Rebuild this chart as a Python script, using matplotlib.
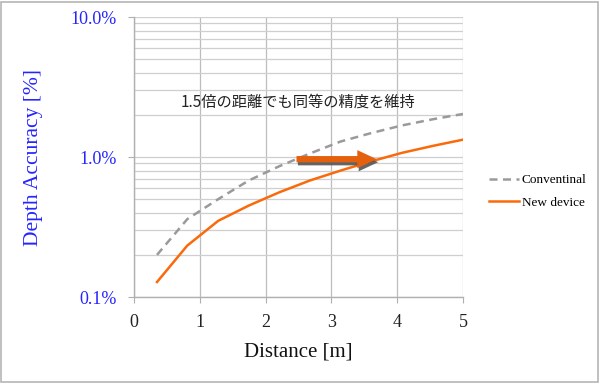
import matplotlib
matplotlib.use("Agg")
import matplotlib.pyplot as plt
from matplotlib.patches import Rectangle
from matplotlib.ticker import FixedLocator, NullFormatter
import matplotlib.patheffects as pe

distance = [0.35, 0.81, 1.28, 1.745, 2.21, 2.675, 3.14, 3.6, 4.07, 4.54, 5.0]
conventional = [0.20, 0.36, 0.50, 0.68, 0.86, 1.06, 1.29, 1.48, 1.68, 1.86, 2.03]
new_device = [0.128, 0.233, 0.35, 0.45, 0.56, 0.68, 0.80, 0.93, 1.07, 1.20, 1.33]
y_ticks = [0.1, 1.0, 10.0]
y_tick_labels = ["0.1%", "1.0%", "10.0%"]
x_ticks = [0, 1, 2, 3, 4, 5]
series_names = ["Conventinal", "New device"]
annotation_text = "1.5倍の距離でも同等の精度を維持"
annotation_pos = (2.5, 2.47)
arrow_from = (2.47, 0.965)
arrow_to = (3.69, 0.965)

serif = "Liberation Serif"
blue = "#2424ff"
orange = "#fa6a0a"
gray = "#9a9a9a"

fig = plt.figure(figsize=(6, 3.83), dpi=100)
ax = fig.add_axes([0.2233, 0.2245, 0.5483, 0.7311])
ax.set_yscale("log")
ax.set_xlim(0, 5)
ax.set_ylim(0.1, 10)

ax.plot(distance, conventional, color=gray, lw=1.8, ls=(0, (3.2, 2.2)), label=series_names[0], zorder=3)
ax.plot(distance, new_device, color=orange, lw=1.8, label=series_names[1], zorder=3)

ax.yaxis.set_major_locator(FixedLocator(y_ticks))
ax.set_yticklabels(y_tick_labels)
ax.yaxis.set_minor_locator(FixedLocator([m * d for d in [0.1, 1.0] for m in range(2, 10)]))
ax.yaxis.set_minor_formatter(NullFormatter())
ax.set_xticks(x_ticks)

ax.grid(True, which="both", axis="y", color="#cfcfcf", lw=0.9, zorder=0)
ax.grid(True, which="major", axis="x", color="#bdbdbd", lw=0.9, zorder=0)
ax.set_axisbelow(True)

for s in ["left", "bottom"]:
    ax.spines[s].set_color("#b0b0b0")
    ax.spines[s].set_linewidth(1.0)
for s in ["top", "right"]:
    ax.spines[s].set_visible(False)

ax.tick_params(axis="y", which="major", length=4.3, color="#b0b0b0", pad=8,
               labelsize=13, labelcolor=blue)
ax.tick_params(axis="y", which="minor", length=0)
ax.tick_params(axis="x", which="major", length=4.3, color="#b0b0b0", pad=8,
               labelsize=13, labelcolor="#222222")
for lab in ax.get_xticklabels() + ax.get_yticklabels():
    lab.set_fontfamily(serif)

ax.set_xlabel("Distance [m]", fontsize=15, family=serif, color="#111111", labelpad=8)
ax.set_ylabel("Depth Accuracy [%]", fontsize=15.5, family=serif, color=blue, labelpad=20)

ax.text(annotation_pos[0], annotation_pos[1], annotation_text, fontsize=11, ha="center", va="center",
        family=["Noto Sans CJK JP", "DejaVu Sans"], color="#222222")

ax.annotate("", xy=arrow_to, xytext=arrow_from,
            arrowprops=dict(arrowstyle="simple,head_length=1.4,head_width=1.3,tail_width=0.45",
                            fc="#e4600c", ec="none", shrinkA=0, shrinkB=0,
                            path_effects=[pe.SimplePatchShadow(offset=(1, -2.2), shadow_rgbFace="#555555", alpha=0.9),
                                          pe.Normal()]),
            zorder=4)

leg = fig.legend(loc="center left", bbox_to_anchor=(0.795, 0.5), frameon=False,
                 prop={"family": serif, "size": 9.5}, handlelength=2.3, handletextpad=0.2,
                 labelspacing=0.8)

fig.patches.append(Rectangle((0.002, 0.003), 0.995, 0.993, transform=fig.transFigure,
                             fill=False, ec="#b5b5b5", lw=1.2))

fig.savefig("out.png", dpi=100)
